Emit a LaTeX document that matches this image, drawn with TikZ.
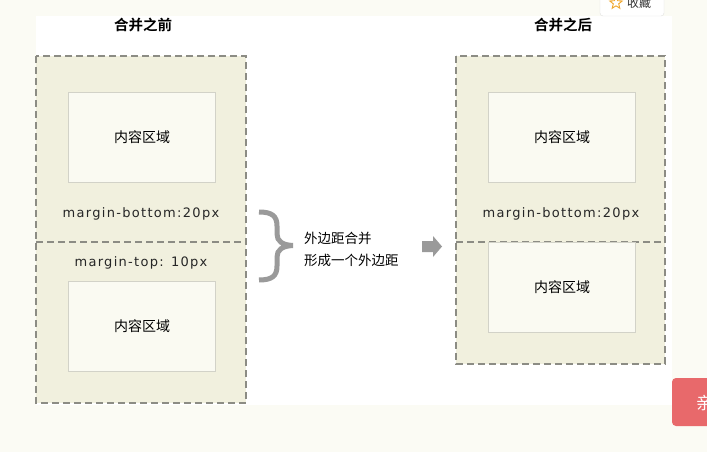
\documentclass[tikz,border=0pt]{standalone}
\usepackage{fontspec}
\setmainfont{Noto Sans CJK SC}
\newfontfamily\cjk{Noto Sans CJK SC}
\newfontfamily\cjkbold{Noto Sans CJK SC Bold}
\newfontfamily\mfont[LetterSpace=10]{DejaVu Sans}
\usetikzlibrary{shapes.geometric}
\definecolor{bgcream}{HTML}{FBFBF4}
\definecolor{marginfill}{HTML}{F1F0DE}
\definecolor{contentfill}{HTML}{FAFAF2}
\definecolor{contentline}{HTML}{D2D2C8}
\definecolor{dashgray}{HTML}{8C8C84}
\definecolor{bracegray}{HTML}{9A9A9A}
\definecolor{redbtn}{HTML}{E8696B}
\definecolor{starorange}{HTML}{F0A830}
\tikzset{
  marginbox/.style={fill=marginfill, draw=dashgray, line width=1.1pt, dash pattern=on 7pt off 4pt},
  divider/.style={draw=dashgray, line width=1.1pt, dash pattern=on 7pt off 4pt},
  contentbox/.style={fill=contentfill, draw=contentline, line width=1pt},
  lbl/.style={font=\cjk\fontsize{14}{15}\selectfont, text=black, inner sep=0pt},
  mlbl/.style={font=\mfont\fontsize{13}{15}\selectfont, text=black!85, inner sep=0pt},
  ttl/.style={font=\cjkbold\fontsize{14.5}{16}\selectfont, text=black, inner sep=0pt},
  note/.style={font=\cjk\fontsize{13.5}{22}\selectfont, text=black, inner sep=0pt, align=left},
}
\begin{document}
\begin{tikzpicture}[x=1pt,y=-1pt]
\useasboundingbox (0,0) rectangle (707,452);
\fill[bgcream] (0,0) rectangle (707,452);
\fill[white] (36,16) rectangle (672,405);

% titles
\node[ttl] (t1) at (143,25) {合并之前};
\node[ttl] (t2) at (563,25) {合并之后};

% left: before
\draw[marginbox] (36,56) rectangle (246,403);
\draw[divider] (36,242) -- (246,242);
\node[contentbox, minimum width=147pt, minimum height=90pt, anchor=north west] (c1) at (68,92) {};
\node[lbl] (c1t) at (c1.center) {内容区域};
\node[mlbl] (mb1) at (141,214) {margin-bottom:20px};
\node[mlbl] (mt1) at (141,263) {margin-top: 10px};
\node[contentbox, minimum width=147pt, minimum height=90pt, anchor=north west] (c2) at (68,281) {};
\node[lbl] (c2t) at (c2.center) {内容区域};

% brace
\draw[bracegray, line width=5pt, line cap=butt]
  (259,212) .. controls (272,212) and (277,216) .. (277,226)
  -- (277,234) .. controls (277,241) and (282,245) .. (293,245.5)
  .. controls (282,246) and (277,250) .. (277,257)
  -- (277,266) .. controls (277,276) and (272,280) .. (259,280);
\node[note, anchor=west] (n1) at (304,249) {外边距合并\\形成一个外边距};

% arrow
\fill[bracegray] (422,241) -- (433,241) -- (433,236) -- (442,246.5) -- (433,257) -- (433,252) -- (422,252) -- cycle;

% right: after
\draw[marginbox] (456,56) rectangle (665,364);
\draw[divider] (456,242) -- (665,242);
\node[contentbox, minimum width=147pt, minimum height=90pt, anchor=north west] (c3) at (488,92) {};
\node[lbl] (c3t) at (c3.center) {内容区域};
\node[mlbl] (mb2) at (561,214) {margin-bottom:20px};
\node[contentbox, minimum width=147pt, minimum height=90pt, anchor=north west] (c4) at (488,242) {};
\node[lbl] (c4t) at (c4.center) {内容区域};

% page overlays
\draw[draw=black!12, fill=white, rounded corners=3pt] (600,-6) rectangle (664,16);
\node[star, star points=5, star point ratio=2.3, draw=starorange, line width=0.9pt, minimum size=13pt, inner sep=0pt] (st) at (616,3) {};
\node[font=\cjk\fontsize{12}{14}\selectfont, text=black!80, anchor=west, inner sep=0pt] (sc) at (627,3) {收藏};
\fill[redbtn, rounded corners=4pt] (672,378) rectangle (715,426);
\node[font=\cjk\fontsize{17}{19}\selectfont, text=white, anchor=west, inner sep=0pt] (qin) at (696,403) {亲};
\end{tikzpicture}
\end{document}
